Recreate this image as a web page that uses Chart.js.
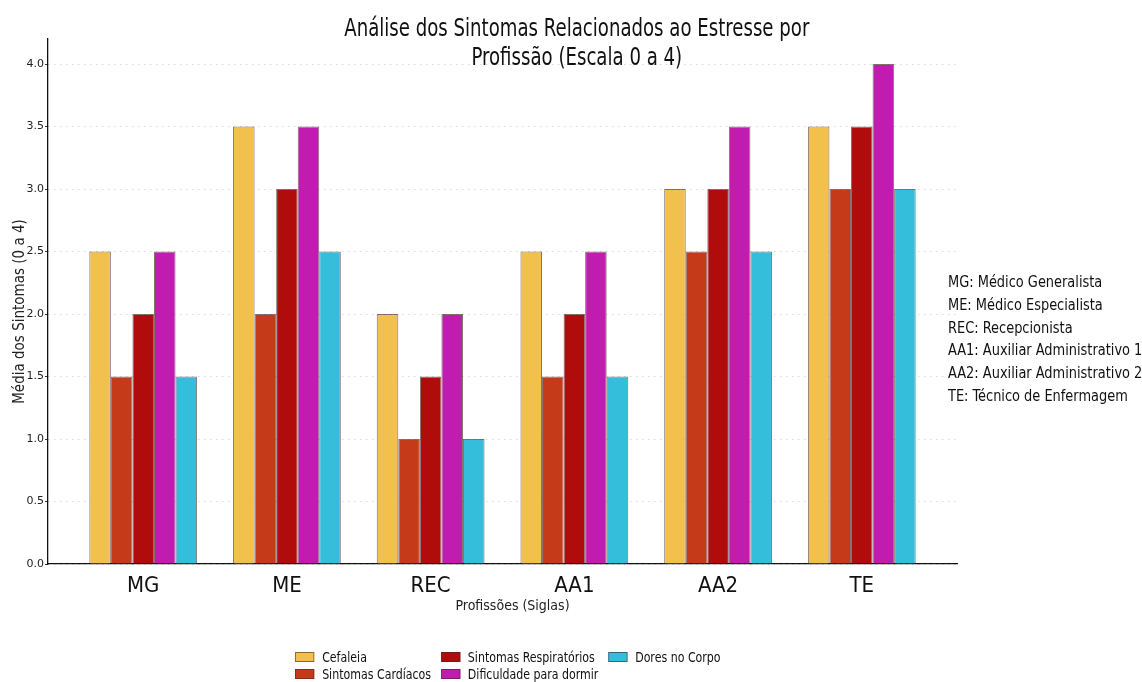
<!DOCTYPE html>
<html lang="pt">
<head>
<meta charset="utf-8">
<script src="https://cdn.jsdelivr.net/npm/chart.js@4.4.1/dist/chart.umd.min.js"></script>
<style>
  html, body { margin: 0; padding: 0; background: #fff; }
  #wrap { position: relative; width: 1142px; height: 682px; overflow: hidden; }
  #barChart { position: absolute; left: 0; top: 0; }
  .narrow { font-family: "DejaVu Sans Condensed", "Liberation Sans Narrow", Roboto, sans-serif; color: #111; }
  #title {
    position: absolute; left: 5px; top: 14px; width: 1142px; text-align: center;
    font-size: 24px; line-height: 29px; transform: scaleX(0.84); transform-origin: 576px 0;
  }
  #siglas {
    position: absolute; left: 948px; top: 271px; font-size: 16px; line-height: 22.8px;
    white-space: nowrap; transform: scaleX(0.9); transform-origin: 0 0;
  }
  #legend {
    position: absolute; left: 295px; top: 648px;
    display: grid; grid-auto-flow: column; grid-template-rows: 17px 17px;
    column-gap: 11px; transform: scaleX(0.875); transform-origin: 0 0;
  }
  #legend .item { display: flex; align-items: center; font-size: 14px; white-space: nowrap; }
  #legend .box { width: 20px; height: 8px; margin-right: 9px; border: 1px solid rgba(70, 40, 40, 0.6); }
</style>
</head>
<body>
<div id="wrap">
  <canvas id="barChart" width="1142" height="682"></canvas>
  <div id="title" class="narrow">Análise dos Sintomas Relacionados ao Estresse por<br>Profissão (Escala 0 a 4)</div>
  <div id="siglas" class="narrow"></div>
  <div id="legend" class="narrow"></div>
</div>
<script>
// categorias (siglas das profissões)
const categories = ["MG", "ME", "REC", "AA1", "AA2", "TE"];
const categoryNames = [
    "Médico Generalista",
    "Médico Especialista",
    "Recepcionista",
    "Auxiliar Administrativo 1",
    "Auxiliar Administrativo 2",
    "Técnico de Enfermagem"
];

// médias dos sintomas, escala 0 a 4
const cefaleia = [2.5, 3.5, 2.0, 2.5, 3.0, 3.5];
const sintomasCardiacos = [1.5, 2.0, 1.0, 1.5, 2.5, 3.0];
const sintomasRespiratorios = [2.0, 3.0, 1.5, 2.0, 3.0, 3.5];
const dificuldadeDormir = [2.5, 3.5, 2.0, 2.5, 3.5, 4.0];
const doresCorpo = [1.5, 2.5, 1.0, 1.5, 2.5, 3.0];

const seriesLabels = ["Cefaleia", "Sintomas Cardíacos", "Sintomas Respiratórios", "Dificuldade para dormir", "Dores no Corpo"];
const seriesValues = [cefaleia, sintomasCardiacos, sintomasRespiratorios, dificuldadeDormir, doresCorpo];
const seriesColors = ["#f2c04c", "#c53a18", "#b10c0c", "#c01caf", "#34bedc"];

const yTicks = [0, 0.5, 1.0, 1.5, 2.0, 2.5, 3.0, 3.5, 4.0];

const xTitle = "Profissões (Siglas)";
const yTitle = "Média dos Sintomas (0 a 4)";

const narrowFont = "'DejaVu Sans Condensed', 'Liberation Sans Narrow', Roboto, sans-serif";

const datasets = seriesLabels.map((label, s) => ({
    label: label,
    data: seriesValues[s].map((v, i) => ({ x: i, y: v })),
    backgroundColor: seriesColors[s],
    borderColor: "rgba(50, 20, 20, 0.6)",
    borderWidth: 1,
    barPercentage: 1.0,
    categoryPercentage: 0.75
}));

// títulos dos eixos desenhados à mão, um pouco deslocados do centro da área
const axisTitles = {
    id: "axisTitles",
    afterDraw(chart) {
        const { ctx, chartArea } = chart;
        ctx.save();
        ctx.fillStyle = "#222";
        ctx.textAlign = "center";
        ctx.textBaseline = "middle";
        ctx.font = "14px " + narrowFont;
        ctx.fillText(xTitle, (chartArea.left + chartArea.right) / 2 + 10, chartArea.bottom + 42);
        ctx.translate(20, (chartArea.top + chartArea.bottom) / 2 + 10);
        ctx.rotate(-Math.PI / 2);
        ctx.font = "15px " + narrowFont;
        ctx.fillText(yTitle, 0, 0);
        ctx.restore();
    }
};

const ctx = document.getElementById("barChart").getContext("2d");

new Chart(ctx, {
    type: "bar",
    data: { datasets: datasets },
    plugins: [axisTitles],
    options: {
        responsive: false,
        animation: false,
        layout: { padding: { top: 39, right: 185, left: 0, bottom: 0 } },
        plugins: {
            legend: { display: false },
            tooltip: { enabled: false }
        },
        scales: {
            x: {
                type: "linear",
                offset: false,
                min: -0.6625,
                max: 5.6625,
                afterBuildTicks: scale => {
                    scale.ticks = categories.map((_, i) => ({ value: i }));
                },
                afterFit: scale => { scale.height = 118; },
                grid: { display: false },
                border: { display: true, color: "#111", width: 1.3 },
                ticks: {
                    callback: v => categories[v],
                    color: "#111",
                    padding: 1,
                    font: { family: narrowFont, size: 22 }
                }
            },
            y: {
                min: 0,
                max: 4.2,
                afterBuildTicks: scale => {
                    scale.ticks = yTicks.map(v => ({ value: v }));
                },
                afterFit: scale => { scale.width = 48; },
                grid: {
                    color: "rgba(0, 0, 0, 0.22)",
                    tickColor: "#333",
                    tickBorderDash: [],
                    tickLength: 3
                },
                border: { display: true, color: "#111", width: 1.3, dash: [1, 5] },
                ticks: {
                    callback: v => v.toFixed(1),
                    color: "#222",
                    padding: 1,
                    font: { family: "'DejaVu Sans', sans-serif", size: 11 }
                }
            }
        }
    }
});

// legenda: colunas preenchidas de cima para baixo
const legendEl = document.getElementById("legend");
seriesLabels.forEach((label, s) => {
    const item = document.createElement("div");
    item.className = "item";
    const box = document.createElement("span");
    box.className = "box";
    box.style.background = seriesColors[s];
    item.appendChild(box);
    item.appendChild(document.createTextNode(label));
    legendEl.appendChild(item);
});

// caixa com o significado das siglas
document.getElementById("siglas").innerHTML =
    categories.map((c, i) => c + ": " + categoryNames[i]).join("<br>");
</script>
</body>
</html>
